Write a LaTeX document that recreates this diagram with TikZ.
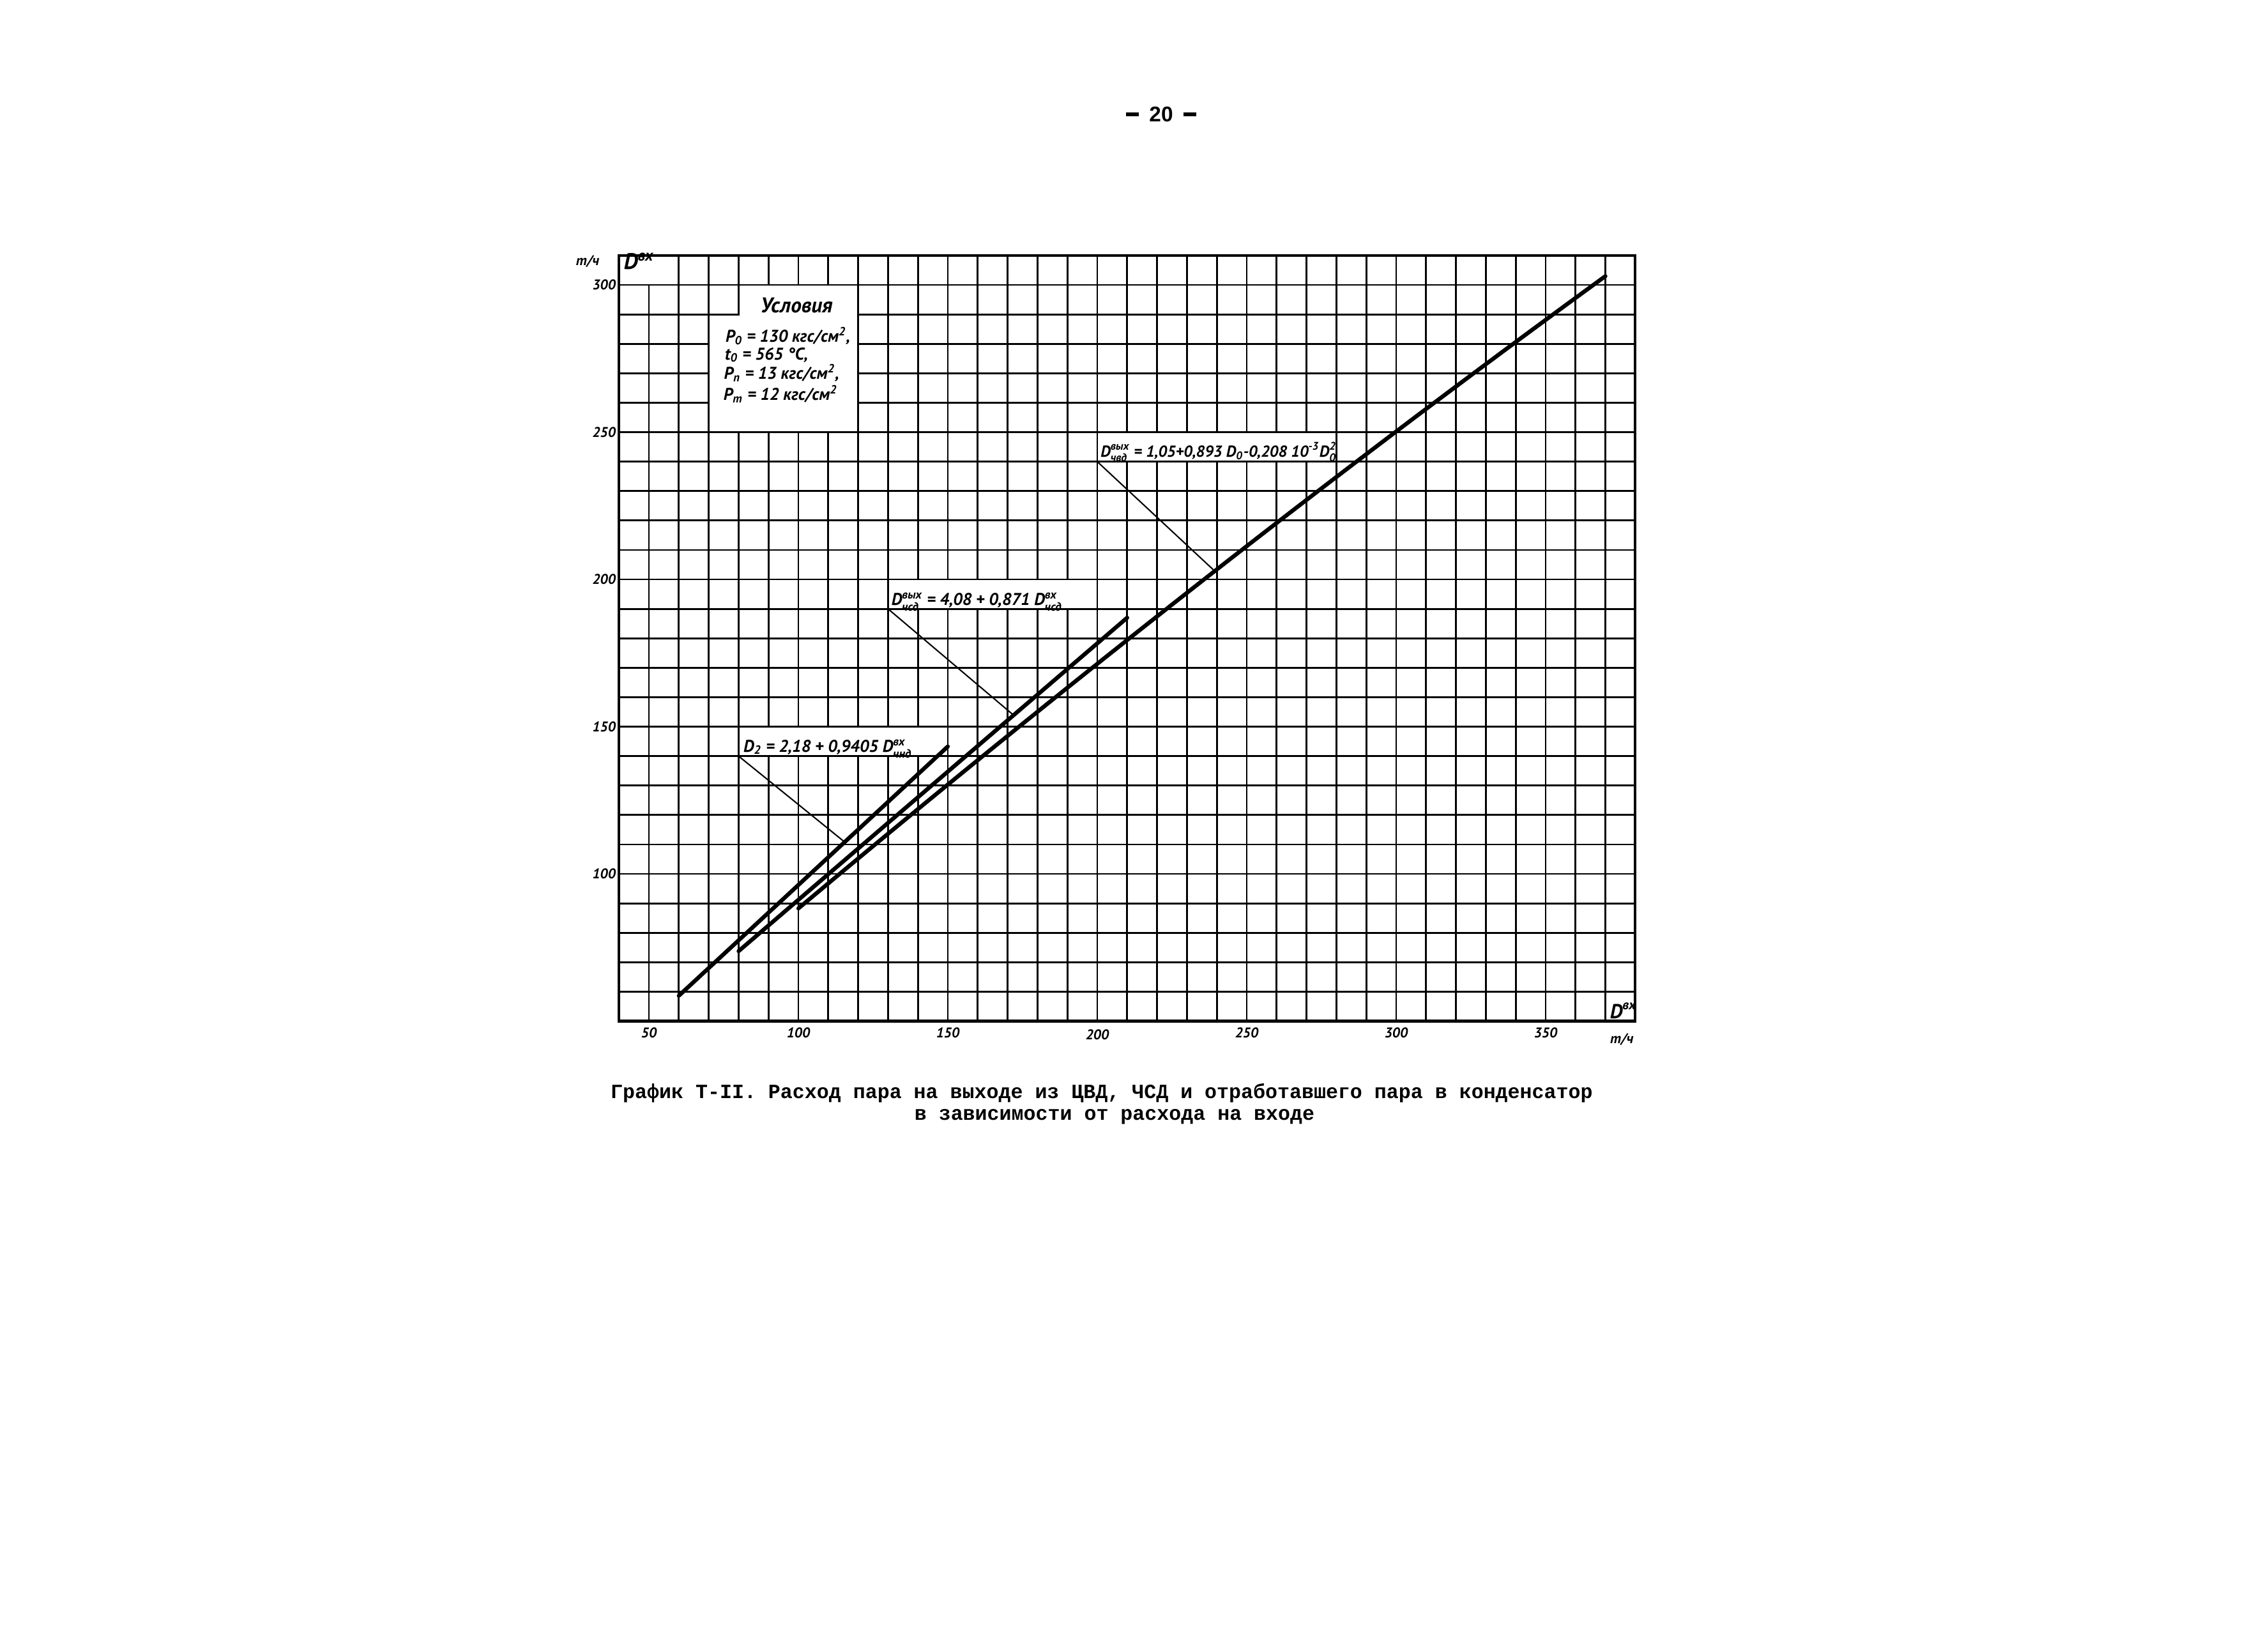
\documentclass[tikz,border=0pt]{standalone}
\usepackage{amsmath}
\usepackage{fontspec}
\setmainfont{PT Sans}
\newfontfamily\typewr{Liberation Mono}
\newfontfamily\pagefont{Liberation Sans}
\newcommand{\flowidx}[2]{$^{\text{#1}}_{\text{#2}}$}
\begin{document}
\begin{tikzpicture}[
    gridline/.style={line width=0.8pt},
    frameline/.style={line width=1.2pt},
    blank/.style={fill=white, draw, line width=0.8pt},
    curve/.style={line width=1.8pt, line cap=round},
    leader/.style={line width=0.6pt},
    hand/.style={font=\bfseries\itshape\fontsize{7.6}{8.5}\selectfont, inner sep=0pt},
    tick/.style={font=\bfseries\itshape\fontsize{6.3}{7}\selectfont, inner sep=0pt},
    caption/.style={font=\typewr\bfseries\fontsize{9}{10}\selectfont, inner sep=0pt},
  ]
  \useasboundingbox (0,0) rectangle (35.51,25.46);
  \node[font=\pagefont\bfseries\fontsize{9.5}{10}\selectfont] (page) at (18.18,23.67)
    {\rule[0.25em]{2mm}{0.6mm}\hspace{1.6mm}20\hspace{1.6mm}\rule[0.25em]{2mm}{0.6mm}};
  \begin{scope}[shift={(7.82cm,7.17cm)}, x=0.0468cm, y=0.0461cm]
    \foreach \x in {50,60,...,370}
      \draw[gridline] (\x,50) -- (\x,310);
    \foreach \y in {60,70,...,300}
      \draw[gridline] (40,\y) -- (380,\y);
    \path[blank] (40,300) rectangle (60,310);
    \path[blank] (70,250) -- (120,250) -- (120,300) -- (80,300) -- (80,290) -- (70,290) -- cycle;
    \path[blank] (80,140) rectangle (150,150);
    \path[blank] (130,190) rectangle (200,200);
    \path[blank] (200,240) rectangle (280,250);
    \draw[frameline] (40,50) rectangle (380,310);

    \draw[curve] plot[domain=60:150, samples=2] (\x,{2.18+0.9405*\x});
    \draw[curve] plot[domain=80:210, samples=2] (\x,{4.08+0.871*\x});
    \draw[curve] plot[domain=100:370, samples=40] (\x,{1.05+0.893*\x-0.208*(\x/100)*(\x/10)});

    \coordinate (chndbox) at (80,140);
    \coordinate (chndpt) at (115.5,{2.18+0.9405*115.5});
    \coordinate (chsdbox) at (130,190);
    \coordinate (chsdpt) at (172,{4.08+0.871*172});
    \coordinate (chvdbox) at (200,240);
    \coordinate (chvdpt) at (239.3,{1.05+0.893*239.3-0.208*(239.3/100)*(239.3/10)});
    \draw[leader] (chndbox) -- (chndpt);
    \draw[leader] (chsdbox) -- (chsdpt);
    \draw[leader] (chvdbox) -- (chvdpt);

    \node[hand, anchor=base west] (chndlbl) at (81.5,141.4)
      {D$_{\text{2}}$ = 2,18 + 0,9405 D\flowidx{вх}{чнд}};
    \node[hand, anchor=base west] (chsdlbl) at (131,191.2)
      {D\flowidx{вых}{чсд} = 4,08 + 0,871 D\flowidx{вх}{чсд}};
    \node[hand, font=\bfseries\itshape\fontsize{7.1}{8}\selectfont, anchor=base west] (chvdlbl) at (201,241.6)
      {D\flowidx{вых}{чвд} = 1,05+0,893 D$_{\text{0}}$-0,208 10$^{\text{-3}}$D$_{\text{0}}^{\text{2}}$};

    \node[hand, font=\bfseries\itshape\fontsize{9.5}{11}\selectfont] (cond) at (99.4,293) {Условия};
    \node[hand, anchor=base west] (cond0) at (75.5,280.6) {P$_{\text{0}}$ = 130 кгс/см$^{\text{2}}$,};
    \node[hand, anchor=base west] (cond1) at (75.3,274.6) {t$_{\text{0}}$ = 565 °C,};
    \node[hand, anchor=base west] (cond2) at (75,268) {P$_{\text{п}}$ = 13 кгс/см$^{\text{2}}$,};
    \node[hand, anchor=base west] (cond3) at (74.8,260.8) {P$_{\text{т}}$ = 12 кгс/см$^{\text{2}}$};

    \node[hand, font=\bfseries\itshape\fontsize{10}{11}\selectfont, anchor=north west] (dtop) at (41.5,311) {D$^{\text{вх}}$};
    \node[hand, font=\bfseries\itshape\fontsize{9}{10}\selectfont] (dbottom) at (376,53.5) {D$^{\text{вх}}$};
    \node[tick] (unity) at (29.5,308) {т/ч};
    \node[tick] (unitx) at (375.5,43.8) {т/ч};

    \draw
      (39,100) node[tick, anchor=east] (y100) {100}
      (39,150) node[tick, anchor=east] (y150) {150}
      (39,200) node[tick, anchor=east] (y200) {200}
      (39,250) node[tick, anchor=east] (y250) {250}
      (39,300) node[tick, anchor=east] (y300) {300};
    \draw
      (50,46) node[tick] (x50) {50}
      (100,46) node[tick] (x100) {100}
      (150,46) node[tick] (x150) {150}
      (200,45.5) node[tick] (x200) {200}
      (250,46) node[tick] (x250) {250}
      (300,46) node[tick] (x300) {300}
      (350,46) node[tick] (x350) {350};
  \end{scope}
  \node[caption] (caption1) at (17.25,8.35)
    {График Т-II. Расход пара на выходе из ЦВД, ЧСД и отработавшего пара в конденсатор};
  \node[caption] (caption2) at (17.45,7.98)
    {в зависимости от расхода на входе};
\end{tikzpicture}
\end{document}
